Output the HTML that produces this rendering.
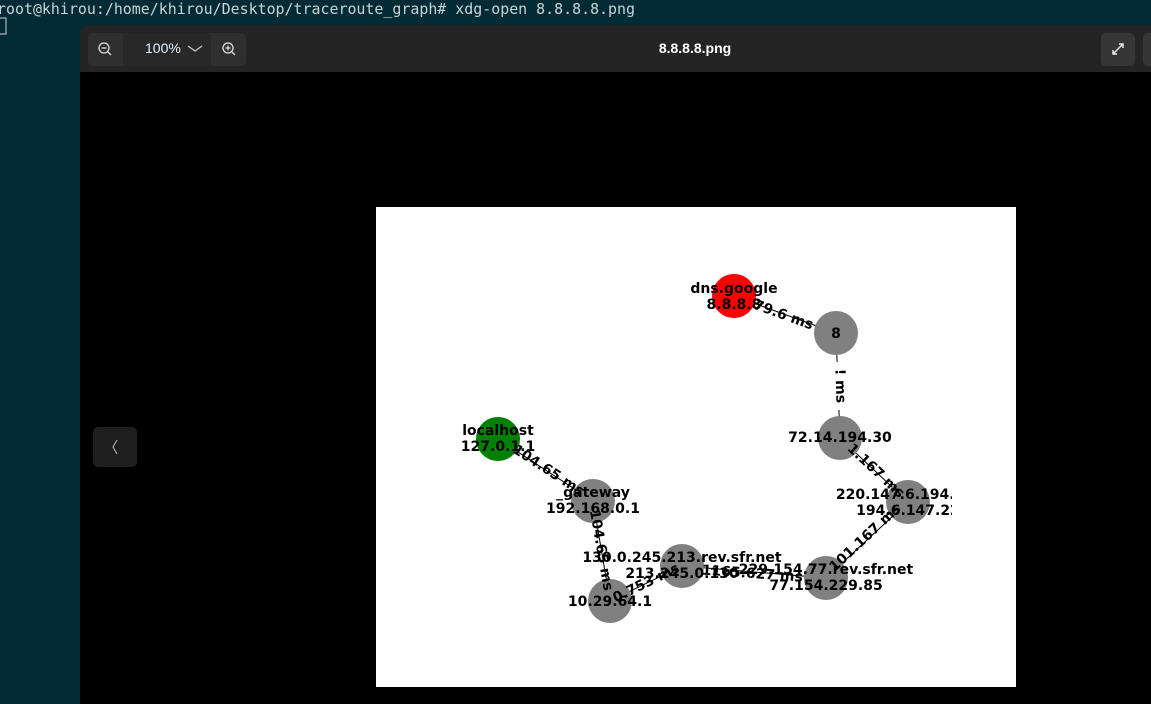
<!DOCTYPE html>
<html><head><meta charset="utf-8"><style>
html,body{margin:0;padding:0;width:1151px;height:704px;overflow:hidden;background:#032b36;}
svg{display:block}
.t{font-family:"DejaVu Sans","Liberation Sans",sans-serif;font-weight:bold;font-size:14px;fill:#000}
.e{font-family:"DejaVu Sans","Liberation Sans",sans-serif;font-weight:bold;font-size:14px;fill:#000}
</style></head><body>
<svg width="1151" height="704" xmlns="http://www.w3.org/2000/svg">
<rect width="1151" height="704" fill="#032b36"/>
<text x="-3" y="14" font-family="DejaVu Sans Mono,Liberation Mono,monospace" font-size="15" fill="#c9d3d6" textLength="638" lengthAdjust="spacingAndGlyphs">root@khirou:/home/khirou/Desktop/traceroute_graph# xdg-open 8.8.8.8.png</text>
<rect x="-2" y="18" width="8" height="16" fill="none" stroke="#c9d3d6" stroke-width="1"/>
<rect x="80" y="25" width="1080" height="690" rx="8" fill="#242424"/>
<rect x="80" y="72" width="1080" height="640" fill="#000"/>
<rect x="88" y="33" width="158" height="33" rx="5" fill="#2f2f2f"/>
<rect x="123" y="33" width="88" height="33" fill="#282828"/>
<circle cx="104" cy="48" r="5" fill="none" stroke="#ddd" stroke-width="1.3"/><line x1="101.5" y1="48" x2="106.5" y2="48" stroke="#ddd" stroke-width="1.3"/><line x1="108" y1="52" x2="111" y2="55" stroke="#ddd" stroke-width="1.3"/>
<text x="145" y="53" font-family="Liberation Sans,sans-serif" font-size="14" fill="#e8f0ff">100%</text>
<polyline points="188,46 195,51 202,46" fill="none" stroke="#ccc" stroke-width="1.2"/>
<circle cx="228" cy="48" r="5" fill="none" stroke="#ddd" stroke-width="1.3"/><line x1="225.5" y1="48" x2="230.5" y2="48" stroke="#ddd" stroke-width="1.3"/><line x1="228" y1="45.5" x2="228" y2="50.5" stroke="#ddd" stroke-width="1.3"/><line x1="232" y1="52" x2="235" y2="55" stroke="#ddd" stroke-width="1.3"/>
<text x="695" y="53" text-anchor="middle" font-family="Liberation Sans,sans-serif" font-weight="bold" font-size="14" fill="#fff">8.8.8.8.png</text>
<rect x="1101" y="33" width="34" height="33" rx="5" fill="#363636"/>
<path d="M1113 54 L1123 44 M1119 44 L1123 44 L1123 48 M1113 50 L1113 54 L1117 54" fill="none" stroke="#eee" stroke-width="1.4"/>
<rect x="1143" y="33" width="34" height="33" rx="5" fill="#363636"/>
<rect x="93" y="427" width="44" height="40" rx="5" fill="#1f1f1f"/>
<polyline points="117,440 113,447 117,454" fill="none" stroke="#aaa" stroke-width="1.2"/>
<rect x="376" y="207" width="640" height="480" fill="#fff"/>
<g stroke="#000" stroke-width="1">
<line x1="734" y1="296" x2="836" y2="333"/>
<line x1="836" y1="333" x2="840" y2="438"/>
<line x1="840" y1="438" x2="908" y2="502"/>
<line x1="908" y1="502" x2="826" y2="578"/>
<line x1="826" y1="578" x2="682" y2="566"/>
<line x1="682" y1="566" x2="610" y2="601"/>
<line x1="610" y1="601" x2="593" y2="501"/>
<line x1="593" y1="501" x2="498" y2="439"/>
</g>
<circle cx="734" cy="296" r="22" fill="#ff0000"/>
<circle cx="836" cy="333" r="22" fill="#808080"/>
<circle cx="840" cy="438" r="22" fill="#808080"/>
<circle cx="908" cy="502" r="22" fill="#808080"/>
<circle cx="826" cy="578" r="22" fill="#808080"/>
<circle cx="682" cy="566" r="22" fill="#808080"/>
<circle cx="610" cy="601" r="22" fill="#808080"/>
<circle cx="593" cy="501" r="22" fill="#808080"/>
<circle cx="498" cy="439" r="22" fill="#008000"/>
<text class="e" text-anchor="middle" transform="translate(782,319) rotate(20)">79.6 ms</text>
<g transform="translate(838,386) rotate(88)"><rect x="-24" y="-11" width="48" height="16" fill="#fff"/><text class="e" text-anchor="middle" y="2">! ms</text></g>
<text class="e" text-anchor="middle" transform="translate(873,474) rotate(43)">1.167 ms</text>
<text class="e" text-anchor="middle" transform="translate(868,541) rotate(-43)">101.167 ms</text>
<text class="e" text-anchor="middle" transform="translate(752,578) rotate(4)">1165.627 ms</text>
<text class="e" text-anchor="middle" transform="translate(648,587) rotate(-26)">0.753 ms</text>
<text class="e" text-anchor="middle" transform="translate(597,551) rotate(80)">104.65 ms</text>
<text class="e" text-anchor="middle" transform="translate(546,474) rotate(33)">104.65 ms</text>
<text class="t" text-anchor="middle" x="734" y="293">dns.google</text>
<text class="t" text-anchor="middle" x="734" y="309">8.8.8.8</text>
<text class="t" text-anchor="middle" x="836" y="338">8</text>
<text class="t" text-anchor="middle" x="840" y="442">72.14.194.30</text>
<text class="t" text-anchor="middle" x="908" y="499">220.147.6.194.rev</text>
<text class="t" text-anchor="middle" x="908" y="515">194.6.147.22</text>
<rect x="952" y="480" width="64" height="40" fill="#fff"/>
<text class="t" text-anchor="middle" x="826" y="574">229.154.77.rev.sfr.net</text>
<text class="t" text-anchor="middle" x="826" y="590">77.154.229.85</text>
<text class="t" text-anchor="middle" x="682" y="562">130.0.245.213.rev.sfr.net</text>
<text class="t" text-anchor="middle" x="682" y="578">213.245.0.130</text>
<text class="t" text-anchor="middle" x="610" y="606">10.29.64.1</text>
<text class="t" text-anchor="middle" x="593" y="497">_gateway</text>
<text class="t" text-anchor="middle" x="593" y="513">192.168.0.1</text>
<text class="t" text-anchor="middle" x="498" y="435">localhost</text>
<text class="t" text-anchor="middle" x="498" y="451">127.0.1.1</text>
</svg>
</body></html>
